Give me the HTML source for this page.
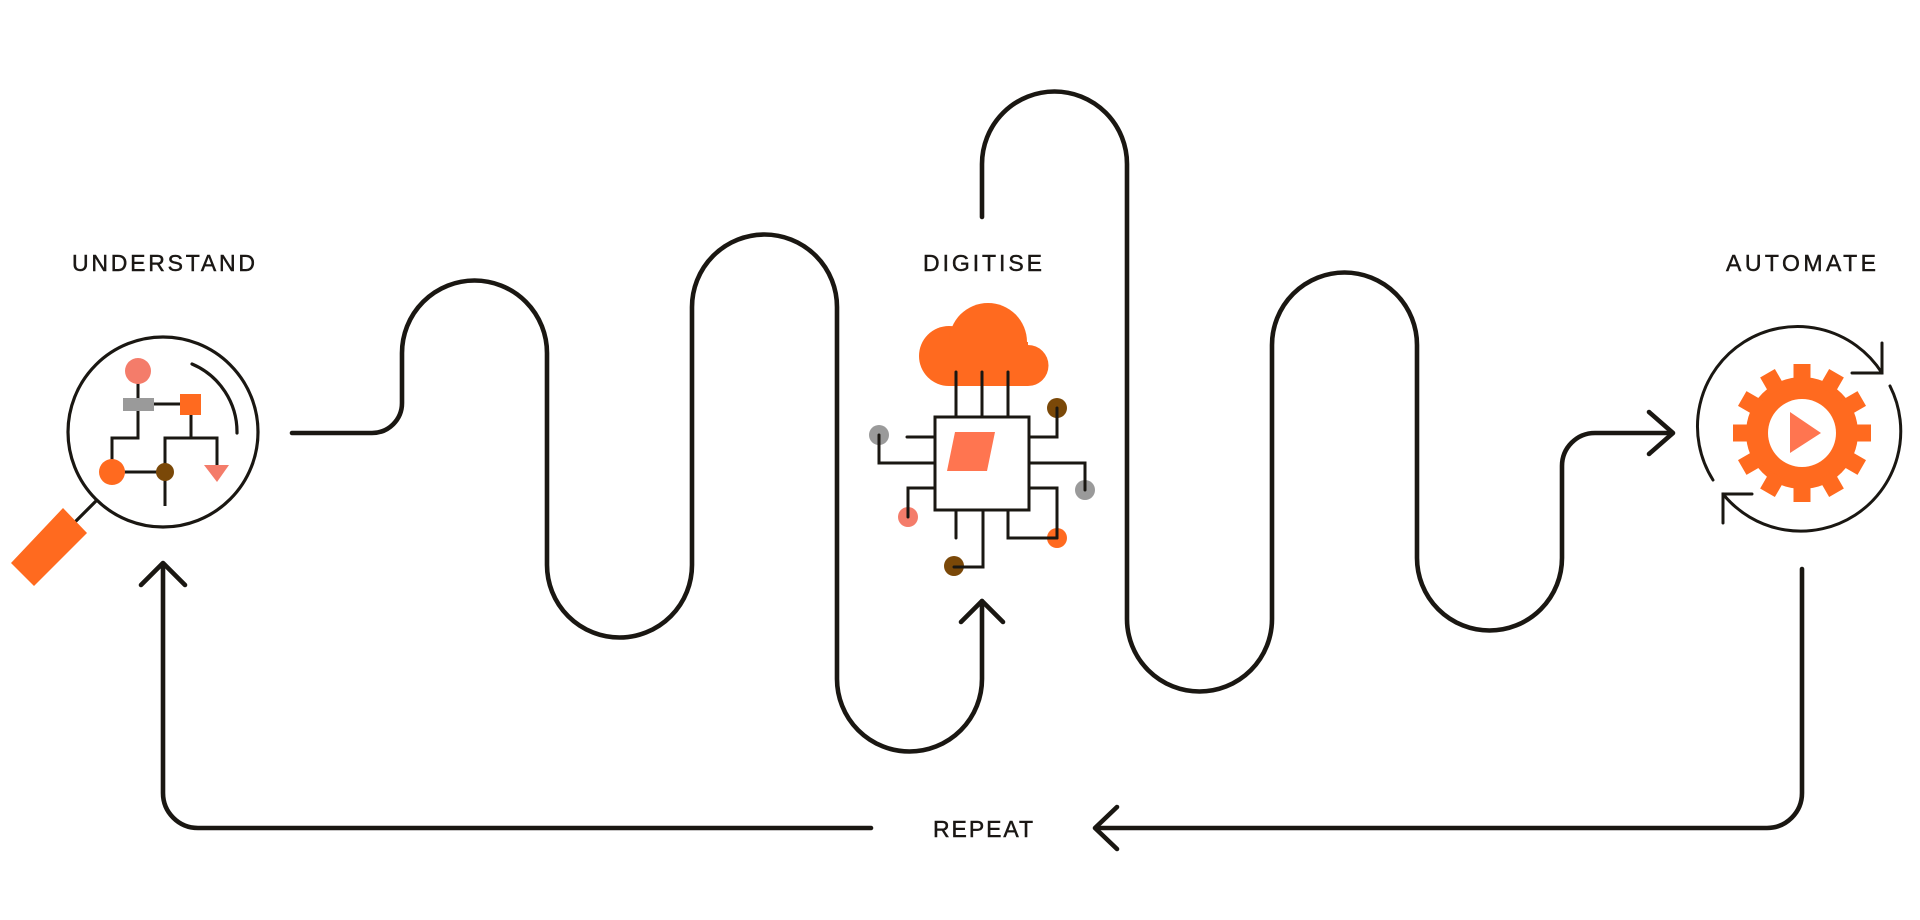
<!DOCTYPE html>
<html>
<head>
<meta charset="utf-8">
<style>
  html, body { margin: 0; padding: 0; background: #ffffff; }
  body { width: 1920px; height: 920px; overflow: hidden; }
  svg { display: block; }
  text { font-family: "Liberation Sans", "DejaVu Sans", sans-serif; font-size: 23px; fill: #1a1714; stroke: #1a1714; stroke-width: 0.45px; }
</style>
</head>
<body>
<svg width="1920" height="920" viewBox="0 0 1920 920" xmlns="http://www.w3.org/2000/svg">
  <rect width="1920" height="920" fill="#ffffff"/>

  <!-- Labels -->
  <text x="72" y="271" textLength="183" lengthAdjust="spacing">UNDERSTAND</text>
  <text x="923" y="271" textLength="119" lengthAdjust="spacing">DIGITISE</text>
  <text x="1726" y="271" textLength="150" lengthAdjust="spacing">AUTOMATE</text>
  <text x="933" y="837" textLength="100" lengthAdjust="spacing">REPEAT</text>

  <!-- Main wave connectors -->
  <g fill="none" stroke="#1a1712" stroke-width="4.6" stroke-linecap="round" stroke-linejoin="round">
    <path d="M 292 433 H 372 A 30 30 0 0 0 402 403 V 353 A 72.5 72.5 0 0 1 547 353 V 565 A 72.5 72.5 0 0 0 692 565 V 307 A 72.5 72.5 0 0 1 837 307 V 679 A 72.5 72.5 0 0 0 982 679 V 601"/>
    <path d="M 961 622 L 982 601 L 1003 622"/>

    <path d="M 982 217 V 164 A 72.5 72.5 0 0 1 1127 164 V 619 A 72.5 72.5 0 0 0 1272 619 V 345 A 72.5 72.5 0 0 1 1417 345 V 558 A 72.5 72.5 0 0 0 1562 558 V 466 A 33 33 0 0 1 1595 433 H 1672"/>
    <path d="M 1649 412 L 1673 433 L 1649 454"/>

    <!-- Repeat loop -->
    <path d="M 1802 569 V 793 A 35 35 0 0 1 1767 828 H 1096"/>
    <path d="M 1117 807 L 1095 828 L 1117 849"/>
    <path d="M 871 828 H 198 A 35 35 0 0 1 163 793 V 565"/>
    <path d="M 141 585 L 163 563 L 185 585"/>
  </g>

  <!-- UNDERSTAND icon: magnifier -->
  <g fill="none" stroke="#1a1712" stroke-width="3.2" stroke-linecap="round">
    <circle cx="163" cy="432" r="95"/>
    <path d="M 192 364 A 74 74 0 0 1 237 433"/>
    <path d="M 96 501 L 76 521"/>
  </g>
  <polygon points="11,563 34,586 87,533 63,508" fill="#ff6a1f"/>
  <g fill="none" stroke="#1a1712" stroke-width="3">
    <path d="M 138 371 V 438 H 112 V 472"/>
    <path d="M 154 404 H 180"/>
    <path d="M 191 415 V 438"/>
    <path d="M 165 506 V 438 H 217 V 466"/>
    <path d="M 112 472 H 165"/>
  </g>
  <circle cx="138" cy="371" r="13" fill="#f47c6a"/>
  <rect x="123" y="398" width="31" height="13" fill="#9a9a9a"/>
  <rect x="180" y="394" width="21" height="21" fill="#ff6a1f"/>
  <circle cx="112" cy="472" r="13" fill="#ff6a1f"/>
  <circle cx="165" cy="472" r="9" fill="#7a4808"/>
  <polygon points="204,465 229,465 217,482" fill="#f47c6a"/>

  <!-- DIGITISE icon: cloud + chip -->
  <g fill="#ff6a1f">
    <circle cx="949" cy="356" r="30"/>
    <circle cx="988" cy="342" r="39"/>
    <circle cx="1028" cy="365.5" r="20.5"/>
    <rect x="949" y="342" width="79" height="44"/>
  </g>
  <circle cx="879" cy="435" r="10" fill="#9a9a9a"/>
  <circle cx="908" cy="517" r="10" fill="#f47c6a"/>
  <circle cx="954" cy="566" r="10" fill="#7a4808"/>
  <circle cx="1057" cy="538" r="10" fill="#ff6a1f"/>
  <circle cx="1057" cy="408" r="10" fill="#7a4808"/>
  <circle cx="1085" cy="490" r="10" fill="#9a9a9a"/>
  <g fill="none" stroke="#1a1712" stroke-width="3" stroke-linecap="round">
    <path d="M 956 372 V 417 M 982 372 V 417 M 1008 372 V 417"/>
    <path d="M 907 437 H 935"/>
    <path d="M 879 435 V 463 H 935"/>
    <path d="M 935 488 H 908 V 517"/>
    <path d="M 956 510 V 538"/>
    <path d="M 983 510 V 567 H 954"/>
    <path d="M 1008 510 V 538 H 1057"/>
    <path d="M 1029 488 H 1057 V 538"/>
    <path d="M 1057 408 V 437 H 1029"/>
    <path d="M 1029 463 H 1085 V 490"/>
  </g>
  <rect x="935" y="417" width="94" height="93" fill="#ffffff" stroke="#1a1712" stroke-width="3"/>
  <polygon points="955,432 995,432 987,471 947,471" fill="#ff7550"/>

  <!-- AUTOMATE icon: gear with cycle arrows -->
  <g fill="none" stroke="#1a1712" stroke-width="3" stroke-linecap="round">
    <path d="M 1713 480 A 100 100 0 0 1 1882 373"/>
    <path d="M 1882 343 V 373 H 1852"/>
    <path d="M 1890 386 A 100 100 0 0 1 1723 494"/>
    <path d="M 1723 523 V 494 H 1752"/>
  </g>
  <g transform="translate(1802,433)" fill="#ff6a1f">
    <circle cx="0" cy="0" r="56"/>
    <rect x="-8.5" y="-69" width="17" height="20" transform="rotate(0)"/>
    <rect x="-8.5" y="-69" width="17" height="20" transform="rotate(30)"/>
    <rect x="-8.5" y="-69" width="17" height="20" transform="rotate(60)"/>
    <rect x="-8.5" y="-69" width="17" height="20" transform="rotate(90)"/>
    <rect x="-8.5" y="-69" width="17" height="20" transform="rotate(120)"/>
    <rect x="-8.5" y="-69" width="17" height="20" transform="rotate(150)"/>
    <rect x="-8.5" y="-69" width="17" height="20" transform="rotate(180)"/>
    <rect x="-8.5" y="-69" width="17" height="20" transform="rotate(210)"/>
    <rect x="-8.5" y="-69" width="17" height="20" transform="rotate(240)"/>
    <rect x="-8.5" y="-69" width="17" height="20" transform="rotate(270)"/>
    <rect x="-8.5" y="-69" width="17" height="20" transform="rotate(300)"/>
    <rect x="-8.5" y="-69" width="17" height="20" transform="rotate(330)"/>
    <circle cx="0" cy="0" r="34" fill="#ffffff"/>
  </g>
  <polygon points="1790,412 1790,453 1821,433" fill="#ff7550"/>
</svg>
</body>
</html>
